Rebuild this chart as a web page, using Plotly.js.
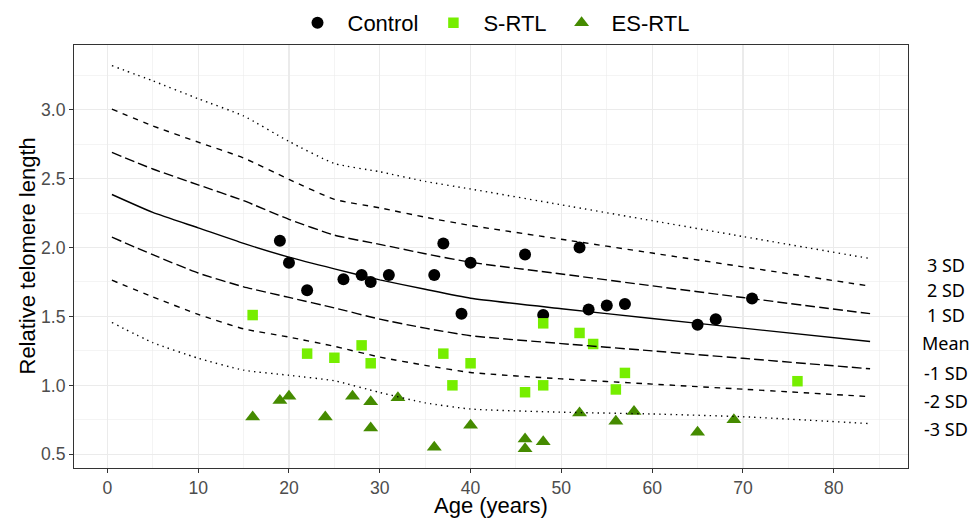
<!DOCTYPE html>
<html>
<head>
<meta charset="utf-8">
<script src="https://cdn.plot.ly/plotly-3.0.1.min.js"></script>
<style>html,body{margin:0;padding:0;background:#fff;}#chart{width:977px;height:519px;}</style>
</head>
<body>
<div id="chart"></div>
<script>
// ---- Data ----
const controlAge = [19, 20, 22, 26, 28, 29, 31, 36, 37, 39, 40, 46, 48, 52, 53, 55, 57, 65, 67, 71];
const controlRTL = [2.05, 1.89, 1.69, 1.77, 1.80, 1.75, 1.80, 1.80, 2.03, 1.52, 1.89, 1.95, 1.51, 2.00, 1.55, 1.58, 1.59, 1.44, 1.48, 1.63];

const srtlAge = [16, 22, 25, 28, 29, 37, 38, 40, 46, 48, 48, 52, 53.5, 56, 57, 76];
const srtlRTL = [1.51, 1.23, 1.20, 1.29, 1.16, 1.23, 1.00, 1.16, 0.95, 1.45, 1.00, 1.38, 1.30, 0.97, 1.09, 1.03];

const esrtlAge = [16, 19, 20, 24, 27, 29, 29, 32, 36, 40, 46, 46, 48, 52, 56, 58, 65, 69];
const esrtlRTL = [0.77, 0.89, 0.92, 0.77, 0.92, 0.88, 0.69, 0.91, 0.55, 0.71, 0.61, 0.54, 0.59, 0.80, 0.74, 0.81, 0.66, 0.75];

const curveAge = [0.5, 5, 10, 15, 20, 25, 30, 35, 40, 50, 60, 70, 84];
const plus3SD  = [3.32, 3.21, 3.08, 2.955, 2.77, 2.61, 2.55, 2.48, 2.425, 2.31, 2.195, 2.08, 1.92];
const plus2SD  = [3.005, 2.883, 2.765, 2.65, 2.495, 2.35, 2.288, 2.22, 2.16, 2.06, 1.96, 1.86, 1.72];
const plus1SD  = [2.69, 2.57, 2.455, 2.34, 2.205, 2.09, 2.023, 1.955, 1.893, 1.808, 1.722, 1.637, 1.52];
const meanRTL  = [2.385, 2.255, 2.143, 2.03, 1.93, 1.845, 1.765, 1.697, 1.632, 1.556, 1.485, 1.415, 1.318];
const minus1SD = [2.075, 1.948, 1.815, 1.715, 1.638, 1.562, 1.48, 1.415, 1.36, 1.303, 1.25, 1.196, 1.12];
const minus2SD = [1.763, 1.642, 1.515, 1.41, 1.35, 1.283, 1.205, 1.145, 1.093, 1.047, 1.009, 0.972, 0.918];
const minus3SD = [1.456, 1.31, 1.197, 1.11, 1.073, 1.033, 0.948, 0.873, 0.828, 0.805, 0.792, 0.772, 0.722];

const groupNames = ['Control', 'S-RTL', 'ES-RTL'];
const sdLabels = ['3 SD', '2 SD', '1 SD', 'Mean', '-1 SD', '-2 SD', '-3 SD'];
const xTitle = 'Age (years)';
const yTitle = 'Relative telomere length';
const xTicks = [0, 10, 20, 30, 40, 50, 60, 70, 80];
const yTicks = [0.5, 1.0, 1.5, 2.0, 2.5, 3.0];

// ---- Styling ----
const W = 977, H = 519;
const M = {l: 74, r: 69, t: 45, b: 51, autoexpand: false};
const plotH = H - M.t - M.b;
const plotW = W - M.l - M.r;
const labelPixY = [265, 290, 315, 343, 373, 401, 429];
const labelPixX = 946;
const xTitlePixY = 506;
const yTitlePixX = 27;

function curve(y, dash) {
  return {
    x: curveAge, y: y, type: 'scatter', mode: 'lines',
    line: {color: '#000000', width: 1.4, dash: dash, shape: 'spline', smoothing: 0.5},
    showlegend: false, hoverinfo: 'skip'
  };
}

const traces = [
  {x: controlAge, y: controlRTL, name: groupNames[0], type: 'scatter', mode: 'markers',
   marker: {symbol: 'circle', size: 12, color: '#000000'}},
  {x: srtlAge, y: srtlRTL, name: groupNames[1], type: 'scatter', mode: 'markers',
   marker: {symbol: 'square', size: 10.5, color: '#76EE00'}},
  {x: esrtlAge, y: esrtlRTL, name: groupNames[2], type: 'scatter', mode: 'markers',
   marker: {symbol: 'triangle-up', size: 13, color: '#458B00'}},
  curve(plus3SD, '1.4px,4.2px'),
  curve(plus2SD, '5.6px,5.6px'),
  curve(plus1SD, '9.8px,4.2px'),
  curve(meanRTL, 'solid'),
  curve(minus1SD, '9.8px,4.2px'),
  curve(minus2SD, '5.6px,5.6px'),
  curve(minus3SD, '1.4px,4.2px')
];

const axisCommon = {
  ticks: 'outside', ticklen: 4, tickwidth: 1, tickcolor: '#333333',
  tickfont: {size: 17.6, color: '#4D4D4D'},
  showgrid: true, gridcolor: '#EBEBEB', gridwidth: 1.1,
  showline: true, mirror: true, linecolor: '#333333', linewidth: 1,
  zeroline: false, automargin: false
};

const annotations = sdLabels.map((t, i) => ({
  text: t, xref: 'paper', yref: 'paper',
  x: (labelPixX - M.l) / plotW, y: (H - M.b - labelPixY[i]) / plotH,
  xanchor: 'center', yanchor: 'middle', showarrow: false,
  font: {family: 'Noto Sans, sans-serif', size: 18, color: '#000000'}
}));
annotations.push({
  text: xTitle, xref: 'paper', yref: 'paper', x: 0.5,
  y: (H - M.b - xTitlePixY) / plotH, xanchor: 'center', yanchor: 'middle',
  showarrow: false, font: {size: 22, color: '#000000'}
});
annotations.push({
  text: yTitle, xref: 'paper', yref: 'paper', textangle: -90,
  x: (yTitlePixX - M.l) / plotW, y: 0.5, xanchor: 'center', yanchor: 'middle',
  showarrow: false, font: {size: 22, color: '#000000'}
});

const layout = {
  width: W, height: H, margin: M,
  paper_bgcolor: '#ffffff', plot_bgcolor: '#ffffff',
  font: {family: 'Liberation Sans, Arial, sans-serif', color: '#000000'},
  xaxis: Object.assign({}, axisCommon, {
    range: [-3.675, 88.175], tickvals: xTicks,
    minor: {dtick: 5, tick0: 0, showgrid: true, gridcolor: '#EBEBEB', gridwidth: 0.55}
  }),
  yaxis: Object.assign({}, axisCommon, {
    range: [0.40, 3.47], tickvals: yTicks, tickformat: '.1f',
    minor: {dtick: 0.25, tick0: 0.5, showgrid: true, gridcolor: '#EBEBEB', gridwidth: 0.55}
  }),
  legend: {orientation: 'h', x: 0.5, xanchor: 'center', y: (H - M.b - 23) / plotH, yanchor: 'middle',
           font: {size: 22, color: '#000000'}, itemwidth: 50, bgcolor: 'rgba(0,0,0,0)'},
  annotations: annotations
};

Plotly.newPlot('chart', traces, layout, {displayModeBar: false, staticPlot: true});
</script>
</body>
</html>
